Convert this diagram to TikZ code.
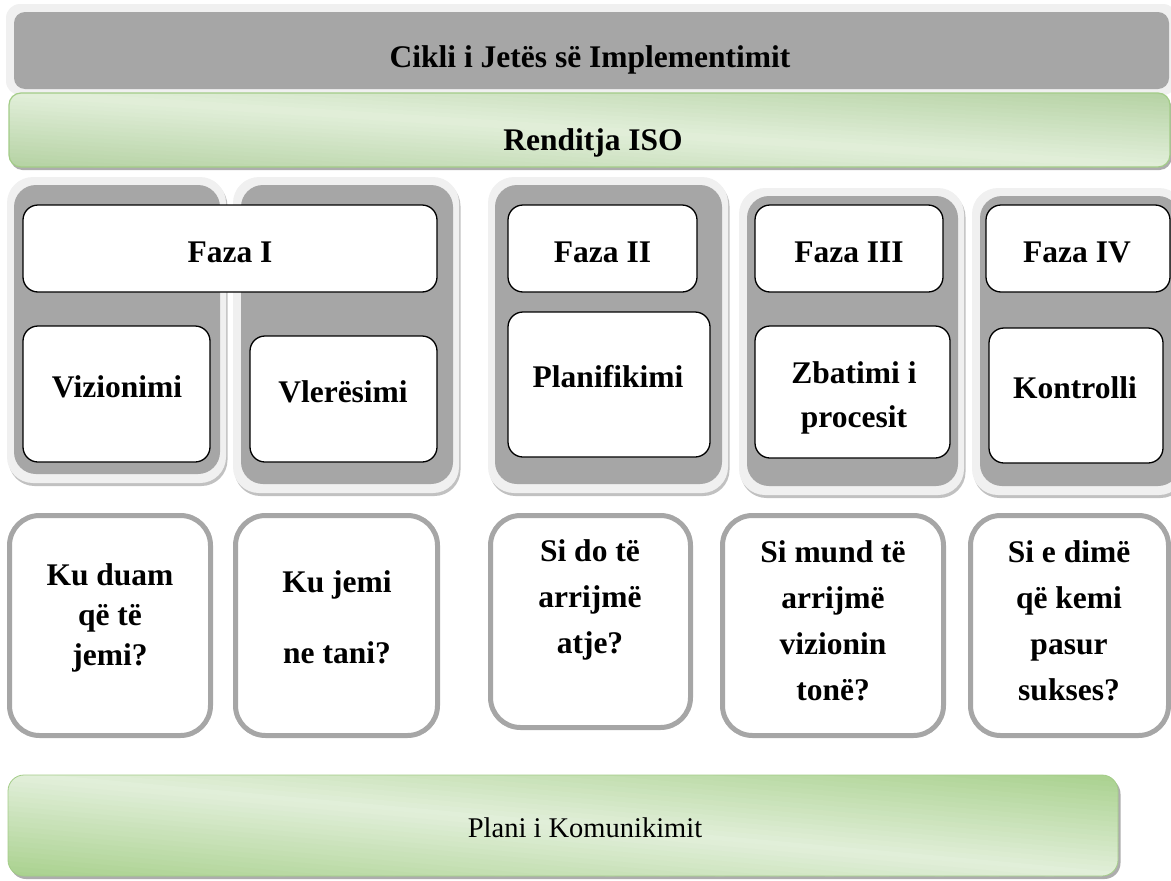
\documentclass[tikz,border=0pt]{standalone}
\usepackage{fontspec}
\setmainfont{Liberation Serif}
\usetikzlibrary{fit,shadows}
\definecolor{greyfill}{HTML}{A6A6A6}
\definecolor{greyrim}{HTML}{F0F0F0}
\definecolor{gdark}{HTML}{B5D2A3}
\definecolor{gdarkb}{HTML}{A9D18E}
\definecolor{glight}{HTML}{E2EFDA}
\definecolor{gline}{HTML}{A3CC88}
\tikzset{
  area/.style={inner sep=0pt, outer sep=0pt},
  toprim/.style={area, fill=greyrim, rounded corners=14pt},
  topfill/.style={area, fill=greyfill, rounded corners=11pt},
  barshadow/.style={fill=black!40, opacity=0.8},
  greenedge/.style={area, draw=gline, line width=1.2pt, rounded corners=12pt},
  planedge/.style={area, draw=gline, line width=0.8pt, rounded corners=16pt},
  colrim/.style={area, fill=greyrim, rounded corners=26pt,
     drop shadow={shadow xshift=1.5pt, shadow yshift=-3pt, fill=black!30, opacity=0.8}},
  colfill/.style={area, fill=greyfill, rounded corners=22pt},
  wbox/.style={area, fill=white, draw=black, line width=1.3pt, rounded corners=15pt},
  qbox/.style={area, fill=white, draw=greyfill, line width=5pt, rounded corners=30pt},
  bold/.style={font=\bfseries\fontsize{31.5}{40}\selectfont, inner sep=0pt, outer sep=0pt, align=center},
  plain/.style={font=\fontsize{28.5}{34}\selectfont, inner sep=0pt, outer sep=0pt}
}
\begin{document}
\begin{tikzpicture}[x=1pt,y=-1pt]
\useasboundingbox (0,0) rectangle (1171,881);
\begin{scope}
\clip (0,0) rectangle (1171,881);
% top grey bar
\node[toprim, fit={(6,4) (1177,95)}] (toprimA) {};
\node[topfill, fit={(14,12) (1169,89)}] (topbar) {};
% green ISO bar: diagonal gradient drawn as slanted strips
\fill[barshadow, rounded corners=12pt] (10.5,96) rectangle (1171.5,170);
\begin{scope}
  \clip[rounded corners=12pt] (9,93) rectangle (1170,167);
  \foreach \d in {-76,-72,...,72} {
    \pgfmathsetmacro\tt{max(0,100*(1-abs(\d+2)/74))}
    \fill[glight!\tt!gdark] (0,92.4+\d) -- (1171,167.4+\d) -- (1171,167.4+\d+4.6) -- (0,92.4+\d+4.6) -- cycle;
  }
\end{scope}
\node[greenedge, fit={(9,93) (1170,167)}] (isobar) {};
% columns
\node[colrim, fit={(7,177) (226,483)}] (rimA) {};
\node[colfill, fit={(14,185) (220,474)}] (colA) {};
\node[colrim, fit={(233,177) (459,493)}] (rimB) {};
\node[colfill, fit={(241,185) (453,484)}] (colB) {};
\node[colrim, fit={(488,177) (728,493)}] (rimC) {};
\node[colfill, fit={(495,185) (722,484)}] (colC) {};
\node[colrim, fit={(739,188) (964,495)}] (rimD) {};
\node[colfill, fit={(747,196) (958,486)}] (colD) {};
\node[colrim, fit={(972,188) (1185,495)}] (rimE) {};
\node[colfill, fit={(980,196) (1180,486)}] (colE) {};
% white phase boxes
\node[wbox, fit={(23,205) (437,292)}] (fazaIbox) {};
\node[wbox, fit={(23,326) (210,462)}] (vizbox) {};
\node[wbox, fit={(250,336) (437,462)}] (vlerbox) {};
\node[wbox, fit={(508,205) (697,292)}] (fazaIIbox) {};
\node[wbox, fit={(508,312) (710,457)}] (planbox) {};
\node[wbox, fit={(755,205) (943,292)}] (fazaIIIbox) {};
\node[wbox, fit={(755,326) (950,458)}] (zbatbox) {};
\node[wbox, fit={(986,205) (1170,292)}] (fazaIVbox) {};
\node[wbox, fit={(989,328) (1163,463)}] (kontbox) {};
% question boxes
\node[qbox, fit={(9.5,515.5) (210.5,735.5)}] (q1) {};
\node[qbox, fit={(235.5,515.5) (437.5,735.5)}] (q2) {};
\node[qbox, fit={(490.5,515.5) (690.5,727.5)}] (q3) {};
\node[qbox, fit={(722.5,515.5) (943.5,735.5)}] (q4) {};
\node[qbox, fit={(970.5,515.5) (1168.5,735.5)}] (q5) {};
% communication plan bar
\fill[barshadow, rounded corners=16pt] (10,778) rectangle (1120.5,879);
\begin{scope}
  \clip[rounded corners=16pt] (8,775) rectangle (1118,876);
  \foreach \d in {-104,-99,...,100} {
    \pgfmathsetmacro\tt{max(0,100*(1-abs(\d+2.5)/101))}
    \fill[glight!\tt!gdarkb] (0,774.3+\d) -- (1171,880.9+\d) -- (1171,880.9+\d+5.6) -- (0,774.3+\d+5.6) -- cycle;
  }
\end{scope}
\node[planedge, fit={(8,775) (1118,876)}] (planibar) {};
\end{scope}
% texts
\node[bold, anchor=base] (cikli) at (590,67) {Cikli i Jetës së Implementimit};
\node[bold, anchor=base] (iso) at (593,150) {Renditja ISO};
\node[bold, anchor=base] (fazaI) at (230,262) {Faza I};
\node[bold, anchor=base] (fazaII) at (602.5,262) {Faza II};
\node[bold, anchor=base] (fazaIII) at (849,262) {Faza III};
\node[bold, anchor=base] (fazaIV) at (1077,262) {Faza IV};
\node[bold, anchor=base] (viz) at (117,397) {Vizionimi};
\node[bold, anchor=base] (vler) at (343,402) {Vlerësimi};
\node[bold, anchor=base] (plan) at (608,387) {Planifikimi};
\node[bold, font=\bfseries\fontsize{31.5}{44}\selectfont] (zbat) at (854,397.5) {Zbatimi i\\procesit};
\node[bold, anchor=base] (kont) at (1075,398) {Kontrolli};
\node[bold, font=\bfseries\fontsize{31.5}{40}\selectfont] (t1) at (110,617.5) {Ku duam\\që të\\jemi?};
\node[bold, font=\bfseries\fontsize{31.5}{40}\selectfont] (t2) at (337,617) {Ku jemi\\[31pt]ne tani?};
\node[bold, font=\bfseries\fontsize{31.5}{46}\selectfont] (t3) at (590,600) {Si do të\\arrijmë\\atje?};
\node[bold, font=\bfseries\fontsize{31.5}{46}\selectfont] (t4) at (833,621) {Si mund të\\arrijmë\\vizionin\\tonë?};
\node[bold, font=\bfseries\fontsize{31.5}{46}\selectfont] (t5) at (1069,621) {Si e dimë\\që kemi\\pasur\\sukses?};
\node[plain, anchor=base] (plani) at (585,837) {Plani i Komunikimit};
\end{tikzpicture}
\end{document}
